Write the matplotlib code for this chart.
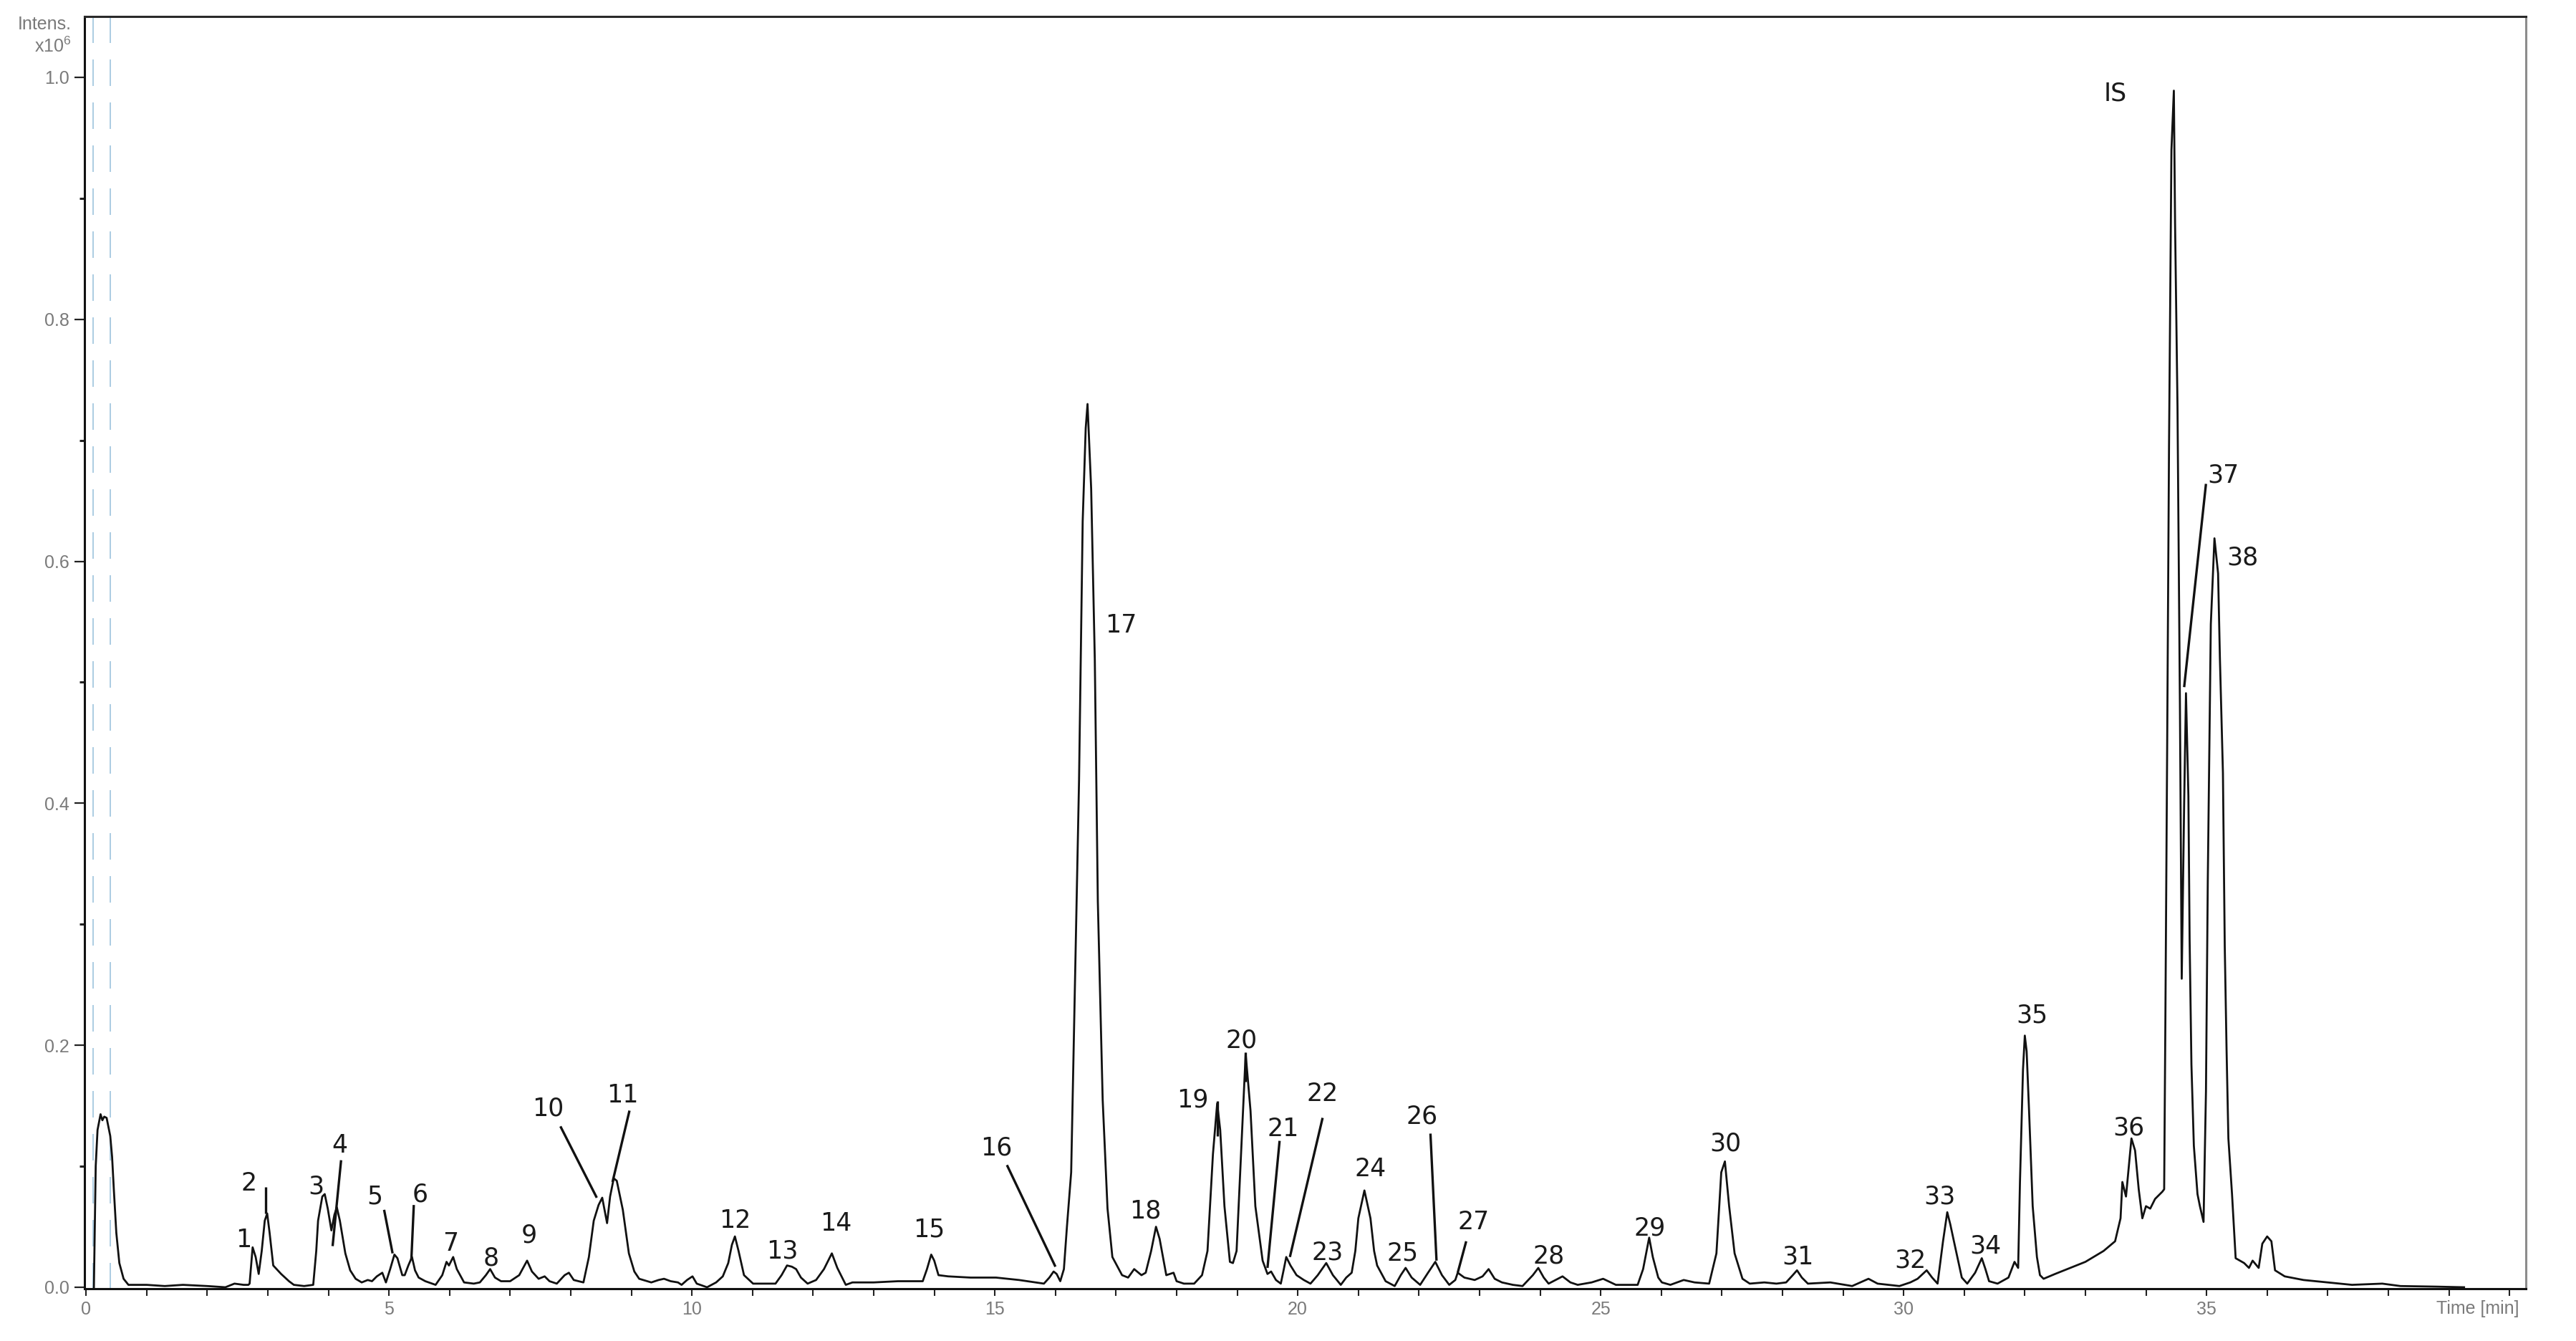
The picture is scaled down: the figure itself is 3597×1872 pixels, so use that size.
import matplotlib
matplotlib.use("Agg")
import matplotlib.pyplot as plt
from matplotlib.ticker import MultipleLocator, FixedLocator

# ---------------- data ----------------
time_min = [
    0.13, 0.16, 0.19, 0.24, 0.27, 0.30, 0.34, 0.40, 0.43, 0.46, 0.50, 0.55, 0.62, 0.70,
    1.00, 1.30, 1.60, 2.00, 2.30, 2.45, 2.60, 2.68,
    2.70, 2.75, 2.80, 2.85, 2.90, 2.95, 2.99, 3.03, 3.09, 3.22, 3.35, 3.43, 3.60, 3.75,
    3.80, 3.83, 3.90, 3.94, 3.99, 4.05, 4.10, 4.14, 4.19, 4.28, 4.36, 4.45, 4.55, 4.65,
    4.72, 4.80, 4.89, 4.95,
    5.02, 5.09, 5.14, 5.22, 5.26, 5.32, 5.38, 5.43, 5.49, 5.60, 5.77,
    5.88, 5.95, 5.99, 6.06, 6.12, 6.24, 6.40, 6.50,
    6.60, 6.67, 6.75, 6.85, 7.00, 7.15,
    7.28, 7.36, 7.47, 7.57, 7.65, 7.77, 7.90, 7.97, 8.05, 8.21,
    8.30, 8.38, 8.46, 8.52, 8.60, 8.65, 8.71, 8.76, 8.86, 8.96, 9.05, 9.13, 9.33, 9.45,
    9.54, 9.65, 9.77, 9.83, 9.92, 10.01, 10.08, 10.25, 10.40, 10.51,
    10.60, 10.66, 10.71, 10.77, 10.86, 11.01, 11.20, 11.38,
    11.48, 11.57, 11.65, 11.72, 11.80, 11.91, 12.05,
    12.18, 12.31, 12.40, 12.54, 12.65, 13.00, 13.40, 13.81,
    13.88, 13.95, 14.00, 14.07, 14.23, 14.60, 15.02, 15.40, 15.81,
    15.90, 15.97, 16.02, 16.08,
    16.14, 16.19, 16.26, 16.31, 16.39, 16.45, 16.50, 16.53, 16.59, 16.65, 16.70, 16.78,
    16.86, 16.94, 17.10, 17.20, 17.30, 17.42, 17.49,
    17.58, 17.66, 17.72, 17.83, 17.95, 18.00, 18.12, 18.29, 18.42,
    18.51, 18.60, 18.67, 18.72, 18.79, 18.88, 18.93,
    18.99, 19.08, 19.14, 19.22, 19.30, 19.42, 19.50, 19.56, 19.64, 19.72,
    19.77, 19.81, 19.88, 19.98, 20.10, 20.21,
    20.33, 20.47, 20.58, 20.71, 20.80, 20.89,
    20.95, 21.00, 21.10, 21.20, 21.26, 21.31, 21.45, 21.60,
    21.70, 21.78, 21.88, 22.02,
    22.15, 22.27, 22.38, 22.50,
    22.60, 22.64, 22.75, 22.92, 23.05, 23.15, 23.25, 23.37, 23.55, 23.71,
    23.88, 23.97, 24.06, 24.14, 24.37, 24.50, 24.62, 24.85, 25.04, 25.25, 25.61,
    25.70, 25.80, 25.86, 25.95, 26.01, 26.15, 26.37, 26.55, 26.79,
    26.91, 26.99, 27.05, 27.12, 27.21, 27.34, 27.46, 27.70, 27.90, 28.06,
    28.17, 28.24, 28.32, 28.42, 28.79, 29.15, 29.42, 29.57, 29.93, 30.11, 30.23,
    30.38, 30.47, 30.56,
    30.65, 30.72, 30.77, 30.83, 30.96, 31.05,
    31.18, 31.29, 31.35, 31.41, 31.55, 31.73, 31.83, 31.89,
    31.92, 31.97, 32.00, 32.03, 32.07, 32.13, 32.20, 32.25, 32.31, 32.50, 32.70, 33.00,
    33.30, 33.49, 33.58, 33.61, 33.67, 33.70,
    33.76, 33.82, 33.88, 33.94, 34.00, 34.07, 34.15, 34.27, 34.30,
    34.32, 34.35, 34.38, 34.42, 34.46, 34.48, 34.52, 34.56, 34.59,
    34.63, 34.66, 34.70, 34.72, 34.75, 34.79, 34.85, 34.89, 34.95,
    34.99, 35.02, 35.07, 35.13, 35.19, 35.22, 35.27, 35.30, 35.33, 35.36, 35.42, 35.48,
    35.62, 35.70, 35.76, 35.86,
    35.92, 36.00, 36.07, 36.13, 36.29, 36.60, 37.00, 37.40, 37.90, 38.20, 38.80, 39.25,
]
intensity_1e6 = [
    0.000, 0.100, 0.130, 0.143, 0.138, 0.141, 0.140, 0.125, 0.108, 0.080, 0.045, 0.020, 0.007, 0.002,
    0.002, 0.001, 0.002, 0.001, 0.000, 0.003, 0.002, 0.002,
    0.003, 0.033, 0.025, 0.011, 0.030, 0.055, 0.061, 0.045, 0.018, 0.011, 0.005, 0.002, 0.001, 0.002,
    0.030, 0.055, 0.075, 0.077, 0.065, 0.047, 0.060, 0.066, 0.055, 0.028, 0.014, 0.007, 0.004, 0.006,
    0.005, 0.009, 0.012, 0.004,
    0.015, 0.027, 0.024, 0.010, 0.010, 0.018, 0.025, 0.014, 0.008, 0.005, 0.002,
    0.010, 0.021, 0.018, 0.025, 0.015, 0.004, 0.003, 0.004,
    0.010, 0.015, 0.008, 0.005, 0.005, 0.010,
    0.022, 0.013, 0.007, 0.009, 0.005, 0.003, 0.010, 0.012, 0.006, 0.004,
    0.025, 0.055, 0.068, 0.074, 0.053, 0.075, 0.090, 0.088, 0.064, 0.028, 0.013, 0.007, 0.004, 0.006,
    0.007, 0.005, 0.004, 0.002, 0.006, 0.009, 0.003, 0.000, 0.004, 0.009,
    0.020, 0.035, 0.042, 0.030, 0.010, 0.003, 0.003, 0.003,
    0.010, 0.018, 0.017, 0.015, 0.008, 0.003, 0.006,
    0.015, 0.028, 0.016, 0.002, 0.004, 0.004, 0.005, 0.005,
    0.015, 0.027, 0.022, 0.010, 0.009, 0.008, 0.008, 0.006, 0.003,
    0.008, 0.013, 0.011, 0.005,
    0.015, 0.050, 0.095, 0.220, 0.419, 0.633, 0.710, 0.730, 0.660, 0.519, 0.319, 0.155,
    0.065, 0.025, 0.010, 0.008, 0.015, 0.010, 0.012,
    0.030, 0.050, 0.040, 0.010, 0.012, 0.005, 0.003, 0.003, 0.010,
    0.030, 0.110, 0.152, 0.130, 0.067, 0.021, 0.020,
    0.030, 0.127, 0.193, 0.146, 0.067, 0.022, 0.011, 0.013, 0.006, 0.003,
    0.015, 0.025, 0.018, 0.010, 0.006, 0.003,
    0.010, 0.020, 0.010, 0.002, 0.008, 0.012,
    0.030, 0.057, 0.080, 0.057, 0.030, 0.018, 0.005, 0.001,
    0.010, 0.016, 0.008, 0.002,
    0.012, 0.021, 0.010, 0.002,
    0.006, 0.012, 0.008, 0.006, 0.009, 0.015, 0.007, 0.004, 0.002, 0.001,
    0.010, 0.016, 0.008, 0.003, 0.009, 0.004, 0.002, 0.004, 0.007, 0.002, 0.002,
    0.015, 0.041, 0.025, 0.008, 0.004, 0.002, 0.006, 0.004, 0.003,
    0.028, 0.095, 0.104, 0.067, 0.028, 0.007, 0.003, 0.004, 0.003, 0.004,
    0.010, 0.014, 0.008, 0.003, 0.004, 0.001, 0.007, 0.003, 0.001, 0.004, 0.007,
    0.014, 0.008, 0.003,
    0.038, 0.062, 0.052, 0.038, 0.008, 0.003,
    0.012, 0.024, 0.015, 0.005, 0.003, 0.008, 0.021, 0.016,
    0.087, 0.180, 0.208, 0.195, 0.146, 0.067, 0.025, 0.010, 0.007, 0.011, 0.015, 0.021,
    0.030, 0.038, 0.057, 0.087, 0.075, 0.091,
    0.123, 0.113, 0.081, 0.057, 0.067, 0.065, 0.073, 0.079, 0.081,
    0.220, 0.450, 0.694, 0.940, 0.989, 0.879, 0.728, 0.482, 0.255,
    0.400, 0.491, 0.406, 0.288, 0.184, 0.117, 0.077, 0.067, 0.054,
    0.162, 0.336, 0.548, 0.619, 0.590, 0.520, 0.425, 0.282, 0.196, 0.123, 0.077, 0.024,
    0.020, 0.016, 0.022, 0.016,
    0.036, 0.042, 0.038, 0.014, 0.009, 0.006, 0.004, 0.002, 0.003, 0.001, 0.0005, 0.000,
]

# peak labels (text, time position, intensity position)
peak_labels = ["1", "2", "3", "4", "5", "6", "7", "8", "9", "10", "11", "12", "13", "14",
               "15", "16", "17", "18", "19", "20", "21", "22", "23", "24", "25", "26",
               "27", "28", "29", "30", "31", "32", "33", "34", "35", "36", "37", "38", "IS"]
label_t = [2.60, 2.69, 3.80, 4.19, 4.76, 5.51, 6.02, 6.68, 7.31, 7.63, 8.86, 10.71, 11.49,
           12.38, 13.91, 15.02, 17.08, 17.49, 18.27, 19.07, 19.76, 20.41, 20.49, 21.20,
           21.73, 22.05, 22.90, 24.14, 25.81, 27.06, 28.25, 30.11, 30.59, 31.35, 32.12,
           33.72, 35.28, 35.60, 33.49]
label_i = [0.041, 0.088, 0.085, 0.119, 0.077, 0.079, 0.038, 0.026, 0.045, 0.150, 0.161,
           0.057, 0.032, 0.055, 0.050, 0.117, 0.549, 0.065, 0.157, 0.206, 0.133, 0.162,
           0.031, 0.100, 0.030, 0.143, 0.056, 0.028, 0.051, 0.121, 0.027, 0.024, 0.077,
           0.036, 0.227, 0.134, 0.673, 0.605, 0.989]

# leader lines from label to peak
leader_t0 = [2.97, 4.21, 4.92, 5.41, 7.83, 8.97, 15.20, 18.67, 19.14, 19.70, 20.41, 22.19, 22.78, 34.99]
leader_i0 = [0.083, 0.105, 0.064, 0.068, 0.133, 0.146, 0.101, 0.154, 0.194, 0.121, 0.140, 0.127, 0.038, 0.664]
leader_t1 = [2.97, 4.07, 5.06, 5.37, 8.43, 8.69, 16.00, 18.67, 19.14, 19.50, 19.87, 22.29, 22.64, 34.63]
leader_i1 = [0.061, 0.034, 0.028, 0.023, 0.074, 0.087, 0.017, 0.125, 0.170, 0.016, 0.025, 0.022, 0.012, 0.496]

x_major_ticks = [0, 5, 10, 15, 20, 25, 30, 35]
y_major_ticks = [0.0, 0.2, 0.4, 0.6, 0.8, 1.0]
marker_times = [0.12, 0.40]   # dashed segment markers

# ---------------- figure ----------------
W, H, DPI = 3597, 1872, 100
fig = plt.figure(figsize=(W / DPI, H / DPI), dpi=DPI)
plt.rcParams['mathtext.fontset'] = 'custom'
plt.rcParams['mathtext.rm'] = 'Liberation Sans'
plt.rcParams['mathtext.it'] = 'Liberation Sans:italic'

left_px, right_px, top_px, bottom_px = 118, 3527, 23, 1799
ax = fig.add_axes([left_px / W, (H - bottom_px) / H,
                   (right_px - left_px) / W, (bottom_px - top_px) / H])

xmin, xmax = -0.025, 40.27
ymin, ymax = -0.0012, 1.0503
ax.set_xlim(xmin, xmax)
ax.set_ylim(ymin, ymax)

# dashed segment markers
for t in marker_times:
    ax.plot([t, t], [ymax, ymin], color='#9dc3dd', lw=1.2,
            linestyle=(0, (37 / 1.2 * 0.72, 23 / 1.2 * 0.72)), zorder=1)

ax.plot(time_min, intensity_1e6, color='#111111', lw=2.0, zorder=3,
        solid_joinstyle='round')

for x0, y0, x1, y1 in zip(leader_t0, leader_i0, leader_t1, leader_i1):
    ax.plot([x0, x1], [y0, y1], color='#111111', lw=2.4, zorder=4,
            solid_capstyle='butt')

for lab, tx, ty in zip(peak_labels, label_t, label_i):
    ax.text(tx, ty, lab, ha='center', va='center_baseline', fontsize=25,
            family='DejaVu Sans', color='#1a1a1a', zorder=5)

# axes styling
for side in ['left', 'bottom']:
    ax.spines[side].set_color('#111111')
    ax.spines[side].set_linewidth(2.2)
ax.spines['top'].set_color('#2a2a2a')
ax.spines['top'].set_linewidth(2.2)
ax.spines['right'].set_color('#8c8c8c')
ax.spines['right'].set_linewidth(2.2)

ax.xaxis.set_major_locator(FixedLocator(x_major_ticks))
ax.xaxis.set_minor_locator(MultipleLocator(1))
ax.yaxis.set_major_locator(FixedLocator(y_major_ticks))
ax.yaxis.set_minor_locator(MultipleLocator(0.1))
ax.set_xticklabels([str(v) for v in x_major_ticks])
ax.set_yticklabels([f"{v:.1f}" for v in y_major_ticks])

ax.tick_params(axis='x', which='both', direction='out', length=7, width=1.5,
               color='#222222', labelsize=18, labelcolor='#7a7a7a', pad=5)
ax.tick_params(axis='y', which='major', direction='out', length=10, width=1.6,
               color='#222222', labelsize=18, labelcolor='#7a7a7a', pad=5)
ax.tick_params(axis='y', which='minor', direction='out', length=5, width=2.2,
               color='#222222')
for lbl in ax.get_xticklabels() + ax.get_yticklabels():
    lbl.set_family('Liberation Sans')

# axis captions
fig.text(100 / W, 1 - 22 / H, 'Intens.', ha='right', va='top', fontsize=18,
         family='Liberation Sans', color='#7a7a7a')
fig.text(100 / W, 1 - 52 / H, r'x10$^{6}$', ha='right', va='top', fontsize=18,
         family='Liberation Sans', color='#7a7a7a')
fig.text(3518 / W, 1 - 1827 / H, 'Time [min]', ha='right', va='center', fontsize=18,
         family='Liberation Sans', color='#7a7a7a')

fig.savefig('out.png', dpi=DPI, facecolor='white')
